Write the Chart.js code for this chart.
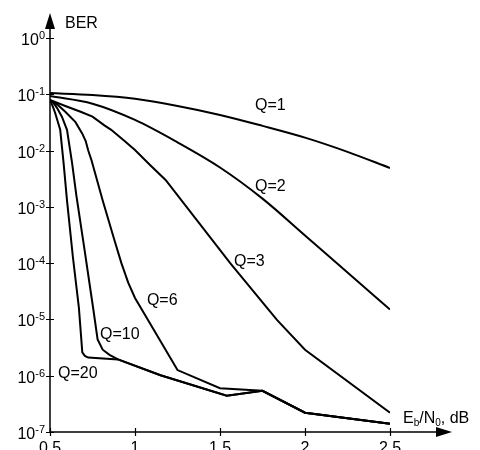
<!DOCTYPE html>
<html>
<head>
<meta charset="utf-8">
<script src="https://cdn.jsdelivr.net/npm/chart.js@4/dist/chart.umd.min.js"></script>
<style>
  html, body { margin: 0; padding: 0; background: #fff; overflow: hidden; }
  #berChart { display: block; }
</style>
</head>
<body>
<canvas id="berChart" width="480" height="470"></canvas>
<script>
// Eb/N0 (dB) points and BER values, one pair per curve
const xQ1 = [0.5, 0.75, 1, 1.25, 1.5, 1.75, 2, 2.25, 2.5];
const berQ1 = [0.105, 0.097, 0.083, 0.062, 0.043, 0.0275, 0.017, 0.0095, 0.0049];

const xQ2 = [0.5, 0.75, 1, 1.25, 1.5, 1.75, 2, 2.25, 2.5];
const berQ2 = [0.093, 0.068, 0.035, 0.014, 0.005, 0.0014, 3.1e-4, 6.8e-5, 1.5e-5];

const xQ3 = [0.5, 0.59, 0.68, 0.75, 0.82, 0.86, 0.93, 1, 1.09, 1.18, 1.56, 1.835, 2, 2.5];
const berQ3 = [0.079, 0.062, 0.049, 0.04, 0.028, 0.0234, 0.0155, 0.0102, 0.0055, 0.003, 1.0e-4, 9.8e-6, 2.9e-6, 2.2e-7];

const xQ6 = [0.5, 0.545, 0.59, 0.65, 0.69, 0.71, 0.725, 0.745, 0.765, 0.81, 0.88, 0.92, 0.96, 1.0, 1.04, 1.25, 1.5, 1.75, 2, 2.5];
const berQ6 = [0.079, 0.065, 0.049, 0.032, 0.02, 0.0148, 0.01, 0.0066, 0.004, 0.0013, 2.5e-4, 1.0e-4, 4.5e-5, 2.4e-5, 1.5e-5, 1.26e-6, 6.0e-7, 5.4e-7, 2.2e-7, 1.4e-7];

const xQ10 = [0.5, 0.52, 0.54, 0.57, 0.6, 0.63, 0.655, 0.7, 0.755, 0.78, 0.81, 0.85, 0.9, 1.15, 1.54, 1.75, 2, 2.5];
const berQ10 = [0.079, 0.07, 0.058, 0.04, 0.0234, 0.006, 0.0016, 2.0e-4, 1.5e-5, 4.4e-6, 2.9e-6, 2.35e-6, 1.95e-6, 1.02e-6, 4.4e-7, 5.4e-7, 2.2e-7, 1.4e-7];

const xQ20 = [0.5, 0.515, 0.53, 0.56, 0.58, 0.6, 0.635, 0.67, 0.69, 0.705, 0.725, 0.9, 1.15, 1.54, 1.75, 2, 2.5];
const berQ20 = [0.079, 0.062, 0.047, 0.0234, 0.006, 0.0013, 1.26e-4, 1.6e-5, 2.6e-6, 2.25e-6, 2.1e-6, 1.95e-6, 1.02e-6, 4.4e-7, 5.4e-7, 2.2e-7, 1.4e-7];

const curveNames = ["Q=1", "Q=2", "Q=3", "Q=6", "Q=10", "Q=20"];
// smooth curves for the first two, straight pieces for the rest
const curveTension = [0.4, 0.4, 0, 0, 0, 0];

// tick marks
const xTicks = [0.5, 1, 1.5, 2, 2.5];
const yTickExps = [0, -1, -2, -3, -4, -5, -6, -7];

// where the curve names sit, in data units (left edge, vertical middle)
const labelX = [1.706, 1.706, 1.582, 1.07, 0.794, 0.547];
const labelY = [0.062, 0.0023, 1.07e-4, 2.2e-5, 5.4e-6, 1.1e-6];

const FONT = '"Liberation Sans", Arial, sans-serif';

function toPoints(xs, ys) {
  return xs.map((x, i) => ({ x: x, y: ys[i] }));
}

const series = [[xQ1, berQ1], [xQ2, berQ2], [xQ3, berQ3], [xQ6, berQ6], [xQ10, berQ10], [xQ20, berQ20]];

const axesPlugin = {
  id: "arrowAxes",
  afterDraw(chart) {
    const ctx = chart.ctx;
    const a = chart.chartArea;
    const xs = chart.scales.x;
    const ys = chart.scales.y;
    ctx.save();
    ctx.strokeStyle = "#000";
    ctx.fillStyle = "#000";
    ctx.lineWidth = 1.5;

    // axis lines
    ctx.beginPath();
    ctx.moveTo(a.left, 26);
    ctx.lineTo(a.left, a.bottom);
    ctx.lineTo(440, a.bottom);
    ctx.stroke();

    // arrow heads
    ctx.beginPath();
    ctx.moveTo(a.left, 13);
    ctx.lineTo(a.left - 5, 29);
    ctx.lineTo(a.left + 5, 29);
    ctx.closePath();
    ctx.fill();
    ctx.beginPath();
    ctx.moveTo(452, a.bottom);
    ctx.lineTo(436, a.bottom - 5);
    ctx.lineTo(436, a.bottom + 5);
    ctx.closePath();
    ctx.fill();

    // ticks crossing the axes
    ctx.lineWidth = 1.2;
    ctx.beginPath();
    yTickExps.forEach(e => {
      const py = Math.round(ys.getPixelForValue(Math.pow(10, e))) + 0.5;
      ctx.moveTo(a.left - 4, py);
      ctx.lineTo(a.left + 4, py);
    });
    xTicks.forEach(v => {
      const px = Math.round(xs.getPixelForValue(v)) + 0.5;
      ctx.moveTo(px, a.bottom - 4);
      ctx.lineTo(px, a.bottom + 4);
    });
    ctx.stroke();

    // y tick labels: 10 with a raised exponent
    ctx.textAlign = "right";
    ctx.textBaseline = "alphabetic";
    yTickExps.forEach(e => {
      const py = ys.getPixelForValue(Math.pow(10, e));
      const sup = String(e);
      ctx.font = "11px " + FONT;
      const w = ctx.measureText(sup).width;
      ctx.fillText(sup, 45, py + 1);
      ctx.font = "16px " + FONT;
      ctx.fillText("10", 45 - w, py + 7);
    });

    // curve names
    ctx.font = "16px " + FONT;
    ctx.textAlign = "left";
    ctx.textBaseline = "middle";
    curveNames.forEach((n, i) => {
      ctx.fillText(n, xs.getPixelForValue(labelX[i]), ys.getPixelForValue(labelY[i]));
    });

    // axis titles
    ctx.textBaseline = "alphabetic";
    ctx.fillText("BER", a.left + 15, 28);
    let px = a.right + 13;
    const base = a.bottom - 9;
    const parts = [["E", 16, 0], ["b", 10, 3], ["/N", 16, 0], ["0", 10, 3], [", dB", 16, 0]];
    parts.forEach(p => {
      ctx.font = p[1] + "px " + FONT;
      ctx.fillText(p[0], px, base + p[2]);
      px += ctx.measureText(p[0]).width;
    });
    ctx.restore();
  }
};

new Chart(document.getElementById("berChart").getContext("2d"), {
  type: "line",
  data: {
    datasets: series.map((s, i) => ({
      label: curveNames[i],
      data: toPoints(s[0], s[1]),
      borderColor: "#000",
      borderWidth: 2,
      pointRadius: 0,
      fill: false,
      tension: curveTension[i],
      cubicInterpolationMode: curveTension[i] > 0 ? "monotone" : "default",
    })),
  },
  options: {
    responsive: false,
    animation: false,
    layout: { padding: { top: 38, right: 90, left: 0, bottom: 0 } },
    plugins: {
      legend: { display: false },
      tooltip: { enabled: false },
    },
    scales: {
      x: {
        type: "linear",
        min: 0.5,
        max: 2.5,
        grid: { display: false, drawTicks: false },
        border: { display: false },
        afterBuildTicks: scale => { scale.ticks = xTicks.map(v => ({ value: v })); },
        afterFit: scale => { scale.height = 38; },
        ticks: {
          padding: 7,
          color: "#000",
          font: { family: FONT, size: 16 },
          callback: v => String(v),
        },
      },
      y: {
        type: "logarithmic",
        min: 1e-7,
        max: 1,
        grid: { display: false, drawTicks: false },
        border: { display: false },
        afterBuildTicks: scale => { scale.ticks = yTickExps.map(e => ({ value: Math.pow(10, e) })); },
        afterFit: scale => { scale.width = 50; },
        ticks: { display: false },
      },
    },
  },
  plugins: [axesPlugin],
});
</script>
</body>
</html>
